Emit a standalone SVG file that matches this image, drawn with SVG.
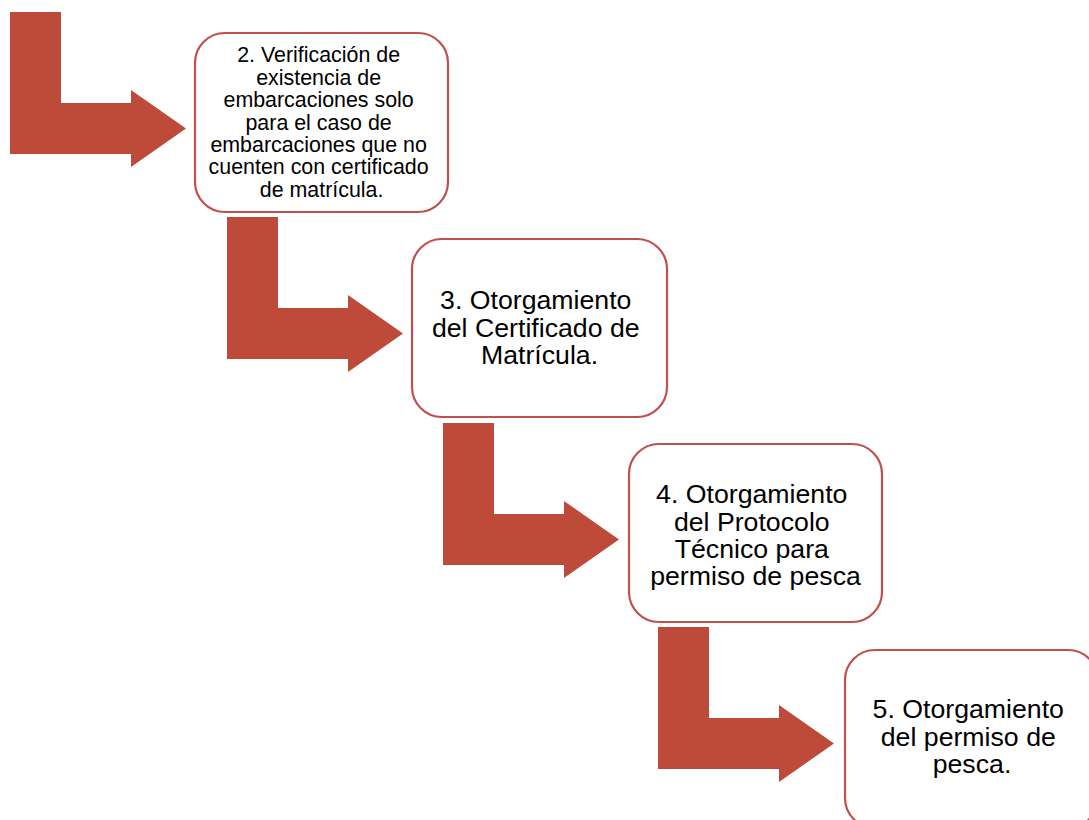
<svg xmlns="http://www.w3.org/2000/svg" xmlns:xlink="http://www.w3.org/1999/xlink" width="1089" height="820" viewBox="0 0 1089 820">
<style>
.box{fill:#ffffff;stroke:#c0504d;stroke-width:2.2}
.arrow{fill:#be4b39}
.t{font-family:"Liberation Sans",Arial,sans-serif;fill:#000000;text-anchor:middle}
.s{font-size:21.4px}
.l{font-size:26.7px}
</style>
<defs>
<path id="bent" d="M0,0 H51 V91 H121 V78 L176,116.5 L121,155 V142 H0 Z"/>
</defs>
<rect width="1089" height="820" fill="#ffffff"/>
<g id="connectors">
<use xlink:href="#bent" href="#bent" class="arrow" transform="translate(10,12)"/>
<use xlink:href="#bent" href="#bent" class="arrow" transform="translate(227,217)"/>
<use xlink:href="#bent" href="#bent" class="arrow" transform="translate(443,423)"/>
<use xlink:href="#bent" href="#bent" class="arrow" transform="translate(658,627)"/>
</g>
<g id="node2">
<rect class="box" x="195" y="33" width="253" height="179" rx="30" ry="30"/>
<text class="t s">
<tspan x="321.6" y="62.3">2. Verificación de</tspan>
<tspan x="321.6" y="84.7">existencia de</tspan>
<tspan x="321.6" y="107.1">embarcaciones solo</tspan>
<tspan x="321.6" y="129.5">para el caso de</tspan>
<tspan x="321.6" y="151.9">embarcaciones que no</tspan>
<tspan x="321.6" y="174.3">cuenten con certificado</tspan>
<tspan x="321.6" y="196.7">de matrícula.</tspan>
</text>
</g>
<g id="node3">
<rect class="box" x="412" y="239" width="255" height="178" rx="30" ry="30"/>
<text class="t l">
<tspan x="539.5" y="309.3">3. Otorgamiento</tspan>
<tspan x="539.5" y="336.6">del Certificado de</tspan>
<tspan x="539.5" y="363.9">Matrícula.</tspan>
</text>
</g>
<g id="node4">
<rect class="box" x="629" y="444" width="253" height="178" rx="30" ry="30"/>
<text class="t l">
<tspan x="755.5" y="503.3">4. Otorgamiento</tspan>
<tspan x="755.5" y="530.6">del Protocolo</tspan>
<tspan x="755.5" y="557.9">Técnico para</tspan>
<tspan x="755.5" y="585.2">permiso de pesca</tspan>
</text>
</g>
<g id="node5">
<rect class="box" x="845" y="650" width="253" height="178" rx="30" ry="30"/>
<text class="t l">
<tspan x="972" y="718.3">5. Otorgamiento</tspan>
<tspan x="972" y="745.6">del permiso de</tspan>
<tspan x="972" y="772.9">pesca.</tspan>
</text>
</g>
</svg>
